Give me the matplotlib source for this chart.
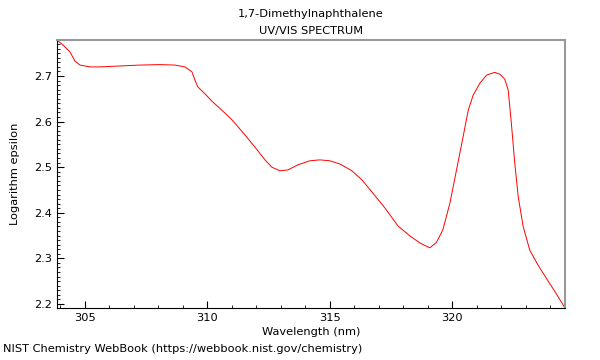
import matplotlib.pyplot as plt
from matplotlib.ticker import MultipleLocator

# spectrum
wavelength = [303.86, 304.1, 304.39, 304.59, 304.8, 305.2, 305.6, 306.43, 307.24, 308.06,
              308.67, 309.08, 309.37, 309.49, 309.61, 309.9, 310.18, 310.59, 311.0, 311.53,
              312.06, 312.35, 312.63, 312.96, 313.29, 313.69, 314.18, 314.59, 315.0, 315.41,
              315.9, 316.31, 316.71, 317.24, 317.78, 318.27, 318.67, 319.0, 319.08, 319.35,
              319.61, 319.9, 320.17, 320.44, 320.65, 320.85, 321.12, 321.4, 321.73, 321.94,
              322.14, 322.28, 322.41, 322.55, 322.69, 322.89, 323.16, 323.5, 323.84, 324.2, 324.6]
log_eps = [2.779, 2.768, 2.753, 2.733, 2.724, 2.720, 2.720, 2.722, 2.724, 2.725,
           2.724, 2.720, 2.709, 2.691, 2.676, 2.661, 2.645, 2.625, 2.604, 2.571,
           2.536, 2.516, 2.500, 2.492, 2.494, 2.505, 2.514, 2.516, 2.514, 2.507,
           2.492, 2.472, 2.446, 2.411, 2.371, 2.349, 2.334, 2.325, 2.323, 2.335,
           2.362, 2.421, 2.494, 2.567, 2.625, 2.658, 2.684, 2.702, 2.708, 2.704,
           2.693, 2.669, 2.596, 2.508, 2.435, 2.370, 2.318, 2.285, 2.256, 2.226, 2.191]

fs = 8.2
fig = plt.figure(figsize=(6, 3.6), dpi=100)
ax = fig.add_axes([0.095, 0.1444, 0.8467, 0.7445])
ax.plot(wavelength, log_eps, color='red', lw=0.7)

ax.set_xlim(303.86, 324.6)
ax.set_ylim(2.191, 2.779)
ax.xaxis.set_major_locator(MultipleLocator(5))
ax.xaxis.set_minor_locator(MultipleLocator(1))
ax.yaxis.set_major_locator(MultipleLocator(0.1))
ax.yaxis.set_minor_locator(MultipleLocator(0.01))
ax.tick_params(which='both', direction='in', labelsize=fs, top=False, right=False)
ax.tick_params(which='major', length=5)
ax.tick_params(which='minor', length=2.5)
for s in ('top', 'right'):
    ax.spines[s].set_color('#999999')
    ax.spines[s].set_linewidth(1.5)

ax.set_xlabel('Wavelength (nm)', fontsize=fs, labelpad=3)
ax.set_ylabel('Logarithm epsilon', fontsize=fs, labelpad=10)
ax.set_title('1,7-Dimethylnaphthalene\nUV/VIS SPECTRUM', fontsize=fs, pad=4, linespacing=1.95)
fig.text(0.005, 0.022, 'NIST Chemistry WebBook (https://webbook.nist.gov/chemistry)', fontsize=fs)

fig.savefig('out.png')
